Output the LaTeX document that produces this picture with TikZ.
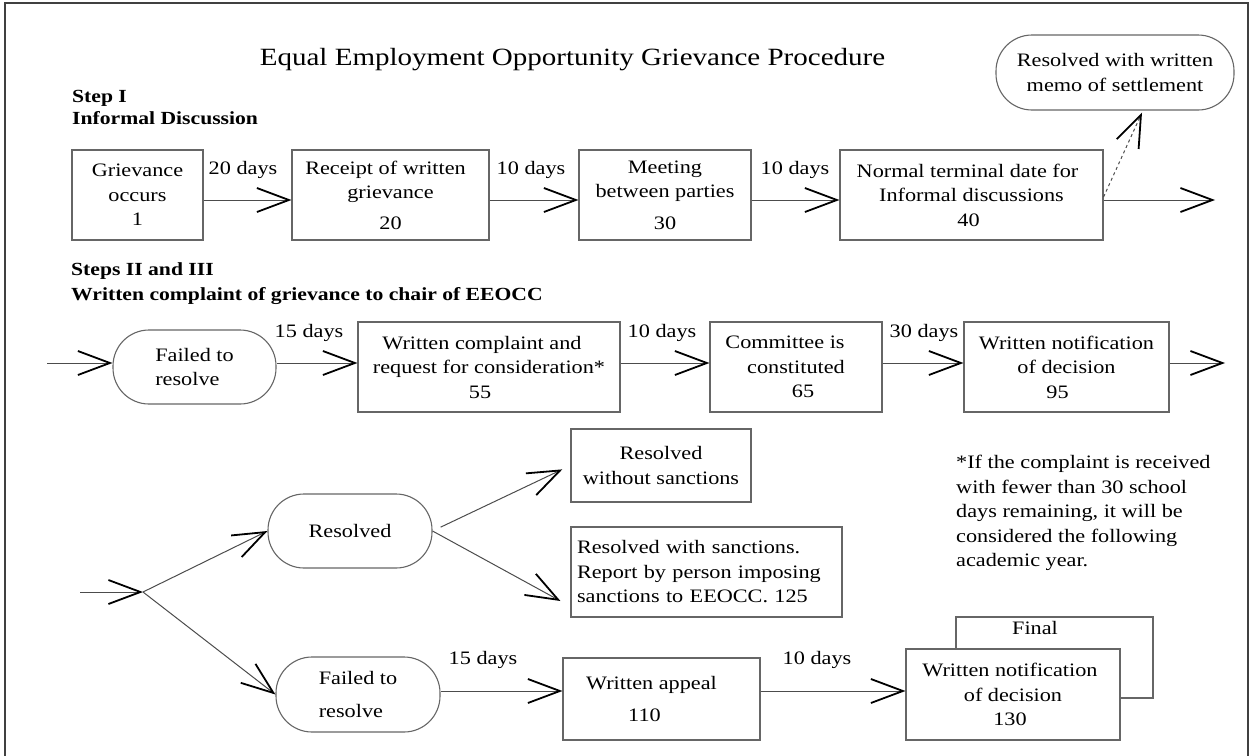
\documentclass[tikz,border=0pt]{standalone}
\usepackage{fontspec}
\setmainfont{Liberation Serif}[FakeStretch=1.17]
\usetikzlibrary{arrows.meta,calc}
\newcommand\fs{\fontsize{19}{24.5}\selectfont}
\newcommand\hfs{\fontsize{18.5}{22}\selectfont\bfseries}
\newcommand\hfsb{\fontsize{18.5}{25}\selectfont\bfseries}
\newcommand\tfs{\fontsize{24.8}{28}\selectfont}
\tikzset{
  box/.style={draw=black!60, line width=1.1pt, align=center, inner sep=0pt, font=\fs},
  stad/.style={box, rounded corners=36pt},
  arr/.style={draw=black!70, line width=1pt, -{Straight Barb[length=32pt,width=24pt,line width=1.8pt,color=black]}},
  lbl/.style={font=\fs, inner sep=0pt},
}
\begin{document}
\begin{tikzpicture}[x=1pt,y=-1pt]
\useasboundingbox (0,0) rectangle (1252,755);
\draw[line width=1.6pt, black!75] (5,3) rectangle (1248,762);

\node[font=\tfs, inner sep=0pt] (title) at (572.5,60) {Equal Employment Opportunity Grievance Procedure};
\node[font=\hfs, align=left, anchor=west, inner sep=0pt] (h1) at (72,107) {Step I\\Informal Discussion};
\node[font=\hfsb, align=left, anchor=west, inner sep=0pt] (h2) at (71,284) {Steps II and III\\Written complaint of grievance to chair of EEOCC};

% Row 1
\node[box, minimum width=131pt, minimum height=90pt] (b1) at (137.5,195) {Grievance\\occurs\\1};
\node[box, minimum width=197pt, minimum height=90pt] (b2) at (390.5,195) {Receipt of written\hspace*{10pt}\\grievance\\[6pt]20};
\node[box, minimum width=172pt, minimum height=90pt] (b3) at (665,195) {Meeting\\between parties\\[7pt]30};
\node[box, minimum width=263pt, minimum height=90pt] (b4) at (971.5,195) {Normal terminal date for\hspace*{8pt}\\Informal discussions\\40\hspace*{6pt}};
\node[stad, minimum width=238pt, minimum height=75pt] (memo) at (1115,72.5) {Resolved with written\\memo of settlement};

\draw[arr] ([yshift=-5pt]b1.east) -- ([yshift=-5pt]b2.west);
\draw[arr] ([yshift=-5pt]b2.east) -- ([yshift=-5pt]b3.west);
\draw[arr] ([yshift=-5pt]b3.east) -- ([yshift=-5pt]b4.west);
\coordinate (e1) at (1215,200);
\draw[arr] ([yshift=-5pt]b4.east) -- (e1);
\draw[arr, dashed] ([yshift=-2pt]b4.east) -- ([xshift=27pt,yshift=-2pt]memo.south);

\node[lbl] (l1) at (243,170) {20 days};
\node[lbl] (l2) at (531,170) {10 days};
\node[lbl] (l3) at (795,170) {10 days};

% Row 2
\node[stad, minimum width=163pt, minimum height=74pt, align=left] (f1) at (194.5,367) {Failed to\\resolve};
\node[box, minimum width=262pt, minimum height=90pt] (b5) at (489,367) {Written complaint and\hspace*{14pt}\\request for consideration*\hspace*{20pt}\\55\hspace*{18pt}};
\node[box, minimum width=172pt, minimum height=90pt] (b6) at (796,367) {Committee is\hspace*{22pt}\\constituted\hspace*{12pt}\\\hspace*{14pt}65};
\node[box, minimum width=205pt, minimum height=90pt] (b7) at (1066.5,367) {Written notification\\of decision\hspace*{26pt}\\95\hspace*{18pt}};

\coordinate (s2) at (47,363);
\draw[arr] (s2) -- (s2 -| f1.west);
\coordinate (f1a) at ([yshift=4pt]f1.east);
\draw[arr] (f1a) -- (f1a -| b5.west);
\coordinate (b5a) at ([yshift=4pt]b5.east);
\draw[arr] (b5a) -- (b5a -| b6.west);
\coordinate (b6a) at ([yshift=4pt]b6.east);
\draw[arr] (b6a) -- (b6a -| b7.west);
\coordinate (b7a) at ([yshift=4pt]b7.east);
\coordinate (e2) at (1225,363);
\draw[arr] (b7a) -- (e2);

\node[lbl] (l4) at (309,333) {15 days};
\node[lbl] (l5) at (662,333) {10 days};
\node[lbl] (l6) at (924,333) {30 days};

% Row 3
\node[stad, minimum width=164pt, minimum height=74pt] (res) at (350,531) {Resolved};
\node[stad, minimum width=164pt, minimum height=75pt, align=left] (f2) at (358,694.5) {Failed to\\[8pt]resolve};
\node[box, minimum width=180pt, minimum height=73pt] (rw) at (661,465.5) {Resolved\\without sanctions};
\node[box, minimum width=271pt, minimum height=90pt, align=left, text width=259pt] (rs) at (706.5,572) {Resolved with sanctions.\\Report by person imposing\\sanctions to EEOCC. 125};
\node[box, minimum width=197pt, minimum height=82pt] (ap) at (661.5,699) {Written appeal\hspace*{20pt}\\[8pt]110\hspace*{34pt}};
\node[box, minimum width=197pt, minimum height=81pt] (fb) at (1054.5,657.5) {};
\node[lbl] (fin) at (1035,628) {Final};
\node[box, fill=white, minimum width=214pt, minimum height=91pt] (n2) at (1013,694.5) {Written notification\hspace*{6pt}\\of decision\hspace*{6pt}\\130\hspace*{6pt}};

\coordinate (s3) at (80,592);
\coordinate (sp) at (143,592);
\draw[arr] (s3) -- (sp);
\draw[arr] (sp) -- (res.west);
\draw[arr] (sp) -- (f2.west);
\draw[arr, shorten <=9pt, shorten >=9pt] (res.east) -- (rw.west);
\coordinate (rsin) at ([xshift=-10pt,yshift=-29pt]rs.west);
\draw[arr] (res.east) -- (rsin);
\coordinate (f2a) at ([yshift=3.5pt]f2.east);
\draw[arr] (f2a) -- (f2a -| ap.west);
\coordinate (apa) at ([yshift=8pt]ap.east);
\draw[arr] (apa) -- (apa -| n2.west);

\node[lbl] (l7) at (483,660) {15 days};
\node[lbl] (l8) at (817,660) {10 days};

\node[lbl, align=left, anchor=west] (fn) at (956,513) {*If the complaint is received\\with fewer than 30 school\\days remaining, it will be\\considered the following\\academic year.};
\end{tikzpicture}
\end{document}
